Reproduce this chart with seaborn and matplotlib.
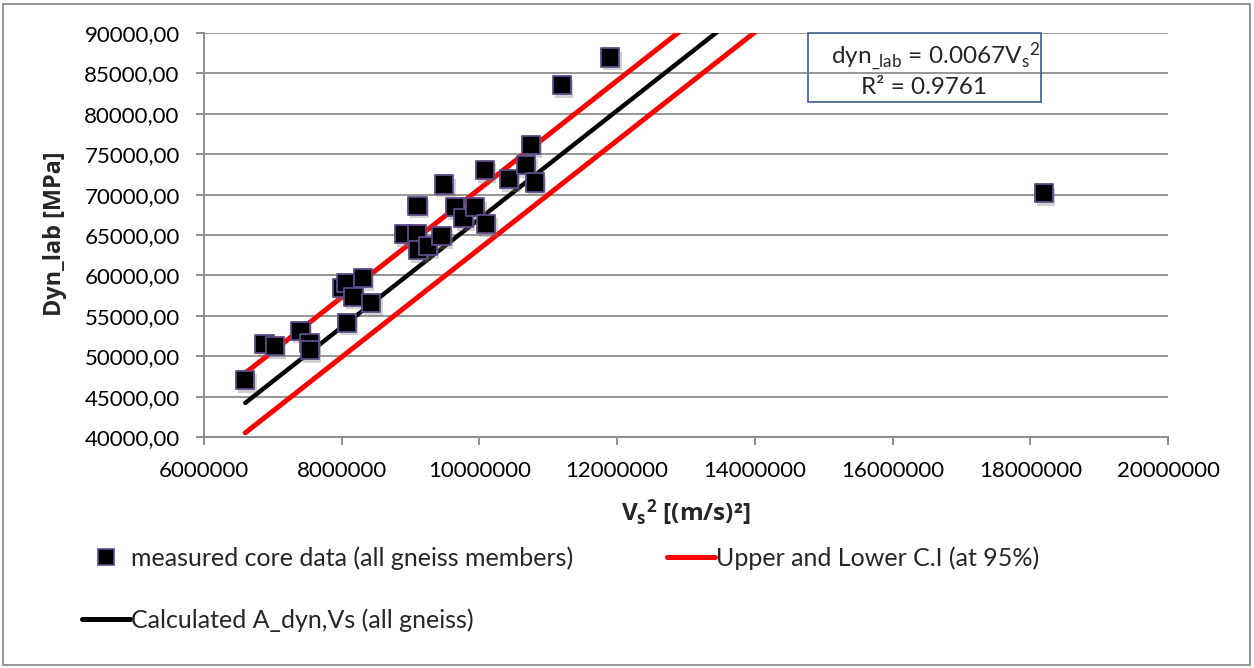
import numpy as np
import pandas as pd
import matplotlib
matplotlib.use("Agg")
import matplotlib.pyplot as plt
import matplotlib.patheffects as pe
from matplotlib.lines import Line2D
from matplotlib.patches import Rectangle
from matplotlib.ticker import FuncFormatter, MultipleLocator
import seaborn as sns

# Measured core data: squared shear-wave velocity vs. dynamic modulus
vs2 = [6.60e6, 6.88e6, 7.03e6, 7.40e6, 7.53e6, 7.54e6, 8.08e6, 8.00e6, 8.07e6,
       8.31e6, 8.17e6, 8.43e6, 8.91e6, 9.09e6, 9.11e6, 9.25e6, 9.45e6, 9.10e6,
       9.49e6, 9.65e6, 9.77e6, 9.94e6, 10.10e6, 10.08e6, 10.43e6, 10.68e6,
       10.75e6, 10.81e6, 11.20e6, 11.90e6, 18.20e6]
dyn_lab = [47050, 51510, 51260, 53160, 51670, 50770, 54150, 58400, 59020,
           59640, 57360, 56550, 65090, 65090, 63140, 63640, 64880, 68630,
           71270, 68430, 67070, 68430, 66360, 73050, 71890, 73660,
           76140, 71480, 83560, 86950, 70160]

# Regression through origin and its 95% confidence band
slope = 0.0067
ci_offset = 3700
line_x = [6.60e6, 14.5e6]

sns.set_theme(style="white")
plt.rcParams["font.family"] = ["Lato", "DejaVu Sans"]
plt.rcParams["mathtext.fontset"] = "custom"
plt.rcParams["mathtext.rm"] = "Lato"
plt.rcParams["mathtext.it"] = "Lato:italic"
plt.rcParams["mathtext.bf"] = "Open Sans:bold"

W, H = 1254, 668
fig = plt.figure(figsize=(W / 100, H / 100), dpi=100)
ax = fig.add_axes([204 / W, 1 - 437 / H, (1168 - 204) / W, (437 - 33) / H])

pts = pd.DataFrame({"vs2": vs2, "dyn": dyn_lab})
lines = pd.DataFrame({
    "x": line_x * 3,
    "y": [slope * x for x in line_x]
         + [slope * x + ci_offset for x in line_x]
         + [slope * x - ci_offset for x in line_x],
    "kind": ["fit"] * 2 + ["upper"] * 2 + ["lower"] * 2,
})

for kind, color, lw in [("upper", "#ff0000", 3.6), ("lower", "#ff0000", 3.6),
                        ("fit", "#000000", 3.2)]:
    sub = lines[lines["kind"] == kind]
    sns.lineplot(data=sub, x="x", y="y", ax=ax, color=color, linewidth=lw,
                 solid_capstyle="round", zorder=3, legend=False)

sns.scatterplot(data=pts, x="vs2", y="dyn", ax=ax, marker="s", s=13.2 ** 2,
                color="#000000", edgecolor="#5f4b8b", linewidth=1.3,
                zorder=4, legend=False)
ax.collections[-1].set_path_effects([
    pe.SimplePatchShadow(offset=(1.5, -2.5), shadow_rgbFace="#808080", alpha=0.35),
    pe.Normal()])

ax.set_xlim(6e6, 20e6)
ax.set_ylim(40000, 90000)
ax.xaxis.set_major_locator(MultipleLocator(2e6))
ax.yaxis.set_major_locator(MultipleLocator(5000))
ax.xaxis.set_major_formatter(FuncFormatter(lambda v, p: f"{v:.0f}"))
ax.yaxis.set_major_formatter(FuncFormatter(lambda v, p: f"{v:.2f}".replace(".", ",")))

ax.grid(axis="y", color="#969696", linewidth=1.4)
ax.grid(axis="x", visible=False)
ax.set_axisbelow(True)
for side in ["top", "right"]:
    ax.spines[side].set_visible(False)
for side in ["left", "bottom"]:
    ax.spines[side].set_color("#8c8c8c")
    ax.spines[side].set_linewidth(1.4)
ax.tick_params(axis="both", which="major", length=5.5, width=1.4, color="#8c8c8c",
               direction="out", labelsize=16, labelcolor="#000000")
ax.tick_params(axis="y", pad=12)
ax.tick_params(axis="x", pad=12)
ax.tick_params(left=True, bottom=True)

ax.set_xlabel("")
ax.set_ylabel("")
fig.text(55 / W, 1 - 234 / H, "Dyn_lab [MPa]", rotation=90, ha="center",
         va="center", fontsize=16.8, fontweight="bold", family="Open Sans")
fig.text(686 / W, 1 - 513 / H, r"V$_\mathbf{s}$$^\mathbf{2}$ [(m/s)²]",
         ha="center", va="center", fontsize=17.5, fontweight="bold",
         family="Open Sans")

# Regression equation box
box = Rectangle((808 / W, 1 - 102 / H), (1041 - 808) / W, (102 - 33) / H,
                transform=fig.transFigure, fill=False, edgecolor="#4a6a9a",
                linewidth=1.3, zorder=5)
fig.patches.append(box)
fig.text(936 / W, 1 - 57 / H,
         r"dyn$_{\_\mathrm{lab}}$ = 0.0067V$_\mathrm{s}$$^\mathrm{2}$",
         ha="center", va="center", fontsize=17.6)
fig.text(924 / W, 1 - 87 / H, "R² = 0.9761", ha="center", va="center",
         fontsize=17.5)

handles = [
    Line2D([], [], linestyle="none", marker="s", markersize=11,
           markerfacecolor="#000000", markeredgecolor="#5f4b8b", markeredgewidth=1.2),
    Line2D([], [], color="#000000", linewidth=3.6),
    Line2D([], [], color="#ff0000", linewidth=3.6),
]
labels = ["measured core data (all gneiss members)",
          "Calculated A_dyn,Vs (all gneiss)",
          "Upper and Lower C.I (at 95%)"]
fig.legend(handles, labels, loc="upper left", bbox_to_anchor=(82 / W, 1 - 546 / H),
           ncol=2, frameon=False, fontsize=18, handlelength=1.92,
           handletextpad=0.05, columnspacing=3.75, labelspacing=1.55,
           borderaxespad=0, borderpad=0)

# Outer chart border
fig.patches.append(Rectangle((3 / W, 3 / H), (W - 7) / W, (H - 7) / H,
                             transform=fig.transFigure, fill=False,
                             edgecolor="#8c8c8c", linewidth=1.3))

fig.savefig("out.png", dpi=100)
